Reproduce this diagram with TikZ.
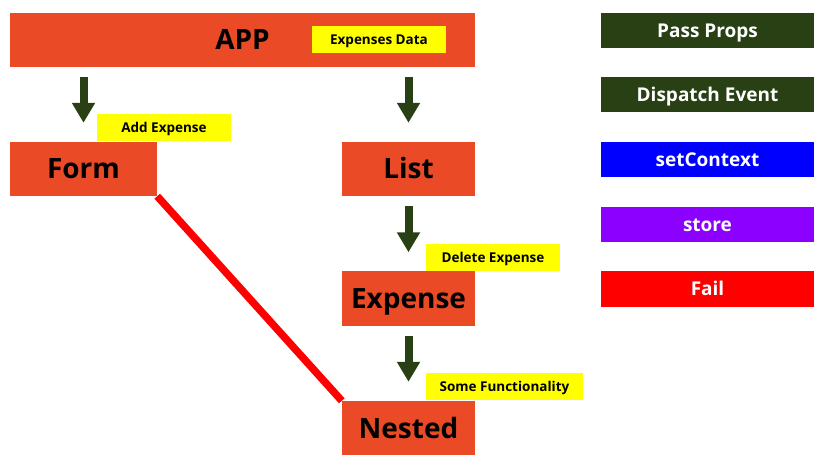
\documentclass[tikz,border=0pt]{standalone}
\usepackage{fontspec}
\setmainfont{Open Sans}
\usetikzlibrary{arrows.meta}

\definecolor{boxred}{HTML}{EA4B26}
\definecolor{propgreen}{HTML}{284014}
\definecolor{ctxblue}{HTML}{0000FF}
\definecolor{storepurple}{HTML}{8B00FF}
\definecolor{failred}{HTML}{FF0000}
\definecolor{tagyellow}{HTML}{FFFF00}

\tikzset{
  comp/.style={fill=boxred, inner sep=0pt, minimum height=54pt,
    text height=20pt, text depth=0pt, font=\fontsize{28}{30}\selectfont\bfseries},
  tag/.style={fill=tagyellow, inner sep=0pt, minimum width=134pt, minimum height=27pt,
    text height=10pt, text depth=0pt, font=\fontsize{13.5}{15}\selectfont\bfseries},
  legend/.style={inner sep=0pt, minimum width=213pt, minimum height=35pt, text=white,
    text height=13.5pt, text depth=0pt, font=\fontsize{19}{21}\selectfont\bfseries},
  passarrow/.style={draw=propgreen, line width=8pt,
    -{Triangle[width=22pt,length=20pt]}, shorten <=10pt, shorten >=19pt},
  failline/.style={draw=failred, line width=7.5pt}
}

\begin{document}
\begin{tikzpicture}[x=1pt, y=-1pt]
\useasboundingbox (0,0) rectangle (835,470);

\node[comp, minimum width=465pt] (app) at (242.5, 40) {APP};
\node[comp, minimum width=147pt] (form) at (83.5, 169) {Form};
\node[comp, minimum width=133pt] (list) at (408.5, 169) {List};
\node[comp, minimum width=133pt] (expense) at (408.5, 298.5) {Expense};
\node[comp, minimum width=133pt] (nested) at (408.5, 428) {Nested};

\node[tag] (expdata) at (379, 39.5) {Expenses Data};
\node[tag] (addexp) at (164, 127.5) {Add Expense};
\node[tag] (delexp) at (493, 257.5) {Delete Expense};
\node[tag, minimum width=157pt] (somefn) at (504.5, 386.5) {Some Functionality};

\draw[passarrow] (app.south -| form.north) -- (form.north);
\draw[passarrow] (app.south -| list.north) -- (list.north);
\draw[passarrow] (list.south) -- (expense.north);
\draw[passarrow] (expense.south) -- (nested.north);

\draw[failline] (form.south east) -- (nested.north west);

\node[legend, fill=propgreen] (props) at (707.5, 30.5) {Pass Props};
\node[legend, fill=propgreen] (dispatch) at (707.5, 95) {Dispatch Event};
\node[legend, fill=ctxblue] (setctx) at (707.5, 159.5) {setContext};
\node[legend, fill=storepurple] (store) at (707.5, 224.5) {store};
\node[legend, fill=failred] (fail) at (707.5, 289) {Fail};
\end{tikzpicture}
\end{document}
